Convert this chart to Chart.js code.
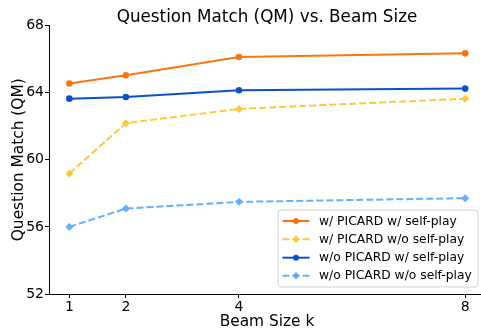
<!DOCTYPE html>
<html>
<head>
<meta charset="utf-8">
<script src="https://cdn.jsdelivr.net/npm/chart.js@4"></script>
<style>
html,body{margin:0;padding:0;background:#fff;}
canvas{display:block;}
</style>
</head>
<body>
<canvas id="c" width="481" height="329"></canvas>
<script>
const beamSizes = [1, 2, 4, 8];
const yTicks = [52, 56, 60, 64, 68];
const seriesNames = ['w/ PICARD w/ self-play', 'w/ PICARD w/o self-play', 'w/o PICARD w/ self-play', 'w/o PICARD w/o self-play'];
const picardSelfPlay = [64.54, 65.03, 66.12, 66.34];
const picardNoSelfPlay = [59.18, 62.18, 63.03, 63.64];
const noPicardSelfPlay = [63.64, 63.74, 64.14, 64.24];
const noPicardNoSelfPlay = [56.0, 57.09, 57.49, 57.71];

const FONT = 'DejaVu Sans';
const styles = [
  {color: '#ff730e', dash: [], marker: 'circle'},
  {color: '#ffc73a', dash: [7, 3], marker: 'rectRot'},
  {color: '#0b50cc', dash: [], marker: 'circle'},
  {color: '#62b0ff', dash: [7, 3], marker: 'rectRot'}
];
const values = [picardSelfPlay, picardNoSelfPlay, noPicardSelfPlay, noPicardNoSelfPlay];

const datasets = values.map((vals, i) => ({
  label: seriesNames[i],
  data: beamSizes.map((b, j) => ({x: b, y: vals[j]})),
  borderColor: styles[i].color,
  backgroundColor: styles[i].color,
  borderWidth: 2,
  borderDash: styles[i].dash,
  pointStyle: styles[i].marker,
  pointRadius: styles[i].marker === 'circle' ? 3.3 : 4,
  pointHoverRadius: 0,
  pointBorderWidth: 0,
  tension: 0,
  fill: false
}));

const decor = {
  id: 'decor',
  afterDraw(chart) {
    const ctx = chart.ctx;
    const a = chart.chartArea;
    ctx.save();
    ctx.fillStyle = '#000';
    ctx.font = '16.8px "' + FONT + '"';
    ctx.textAlign = 'center';
    ctx.textBaseline = 'alphabetic';
    ctx.fillText('Question Match (QM) vs. Beam Size', 267, 22);
    ctx.font = '15.4px "' + FONT + '"';
    ctx.fillText('Beam Size k', 267, 325.5);
    ctx.save();
    ctx.translate(22.5, (a.top + a.bottom) / 2);
    ctx.rotate(-Math.PI / 2);
    ctx.fillText('Question Match (QM)', 0, 0);
    ctx.restore();

    const lx = 278, ly = 210, lw = 200, lh = 77, r = 3;
    ctx.beginPath();
    ctx.moveTo(lx + r, ly);
    ctx.lineTo(lx + lw - r, ly);
    ctx.arcTo(lx + lw, ly, lx + lw, ly + r, r);
    ctx.lineTo(lx + lw, ly + lh - r);
    ctx.arcTo(lx + lw, ly + lh, lx + lw - r, ly + lh, r);
    ctx.lineTo(lx + r, ly + lh);
    ctx.arcTo(lx, ly + lh, lx, ly + lh - r, r);
    ctx.lineTo(lx, ly + r);
    ctx.arcTo(lx, ly, lx + r, ly, r);
    ctx.closePath();
    ctx.fillStyle = 'rgba(255,255,255,0.8)';
    ctx.fill();
    ctx.strokeStyle = '#d0d0d0';
    ctx.lineWidth = 1;
    ctx.stroke();

    const rows = [221, 239.3, 257.7, 275.7];
    chart.data.datasets.forEach((ds, i) => {
      const y = rows[i];
      ctx.strokeStyle = ds.borderColor;
      ctx.lineWidth = 2;
      ctx.setLineDash(ds.borderDash);
      ctx.beginPath();
      ctx.moveTo(282.5, y);
      ctx.lineTo(309.5, y);
      ctx.stroke();
      ctx.setLineDash([]);
      ctx.fillStyle = ds.borderColor;
      ctx.beginPath();
      if (ds.pointStyle === 'circle') {
        ctx.arc(296, y, 3, 0, Math.PI * 2);
      } else {
        ctx.moveTo(296, y - 3.8);
        ctx.lineTo(299.8, y);
        ctx.lineTo(296, y + 3.8);
        ctx.lineTo(292.2, y);
        ctx.closePath();
      }
      ctx.fill();
      ctx.fillStyle = '#000';
      ctx.font = '12.3px "' + FONT + '"';
      ctx.textAlign = 'left';
      ctx.textBaseline = 'middle';
      ctx.fillText(ds.label, 319, y + 0.5);
    });
    ctx.restore();
  }
};

new Chart(document.getElementById('c'), {
  type: 'line',
  data: {datasets},
  options: {
    responsive: false,
    animation: false,
    layout: {autoPadding: false, padding: {top: 25.5, right: 0, left: 0, bottom: 0}},
    plugins: {legend: {display: false}, title: {display: false}, tooltip: {enabled: false}},
    scales: {
      x: {
        type: 'linear',
        min: 0.64,
        max: 8.28,
        afterFit(s) { s.height = 35; s.paddingLeft = 0; s.paddingRight = 0; },
        afterBuildTicks(s) { s.ticks = beamSizes.map(v => ({value: v})); },
        grid: {drawOnChartArea: false, drawTicks: true, tickLength: 4, color: '#000', lineWidth: 1},
        border: {display: true, color: '#000', width: 1},
        ticks: {color: '#000', font: {family: FONT, size: 14}, padding: 1, maxRotation: 0, autoSkip: false}
      },
      y: {
        min: 52,
        max: 68,
        afterFit(s) { s.width = 49; s.paddingTop = 0; s.paddingBottom = 0; },
        afterBuildTicks(s) { s.ticks = yTicks.map(v => ({value: v})); },
        grid: {drawOnChartArea: false, drawTicks: true, tickLength: 4, color: '#000', lineWidth: 1},
        border: {display: true, color: '#000', width: 1},
        ticks: {color: '#000', font: {family: FONT, size: 14}, padding: 1}
      }
    }
  },
  plugins: [decor]
});
</script>
</body>
</html>
